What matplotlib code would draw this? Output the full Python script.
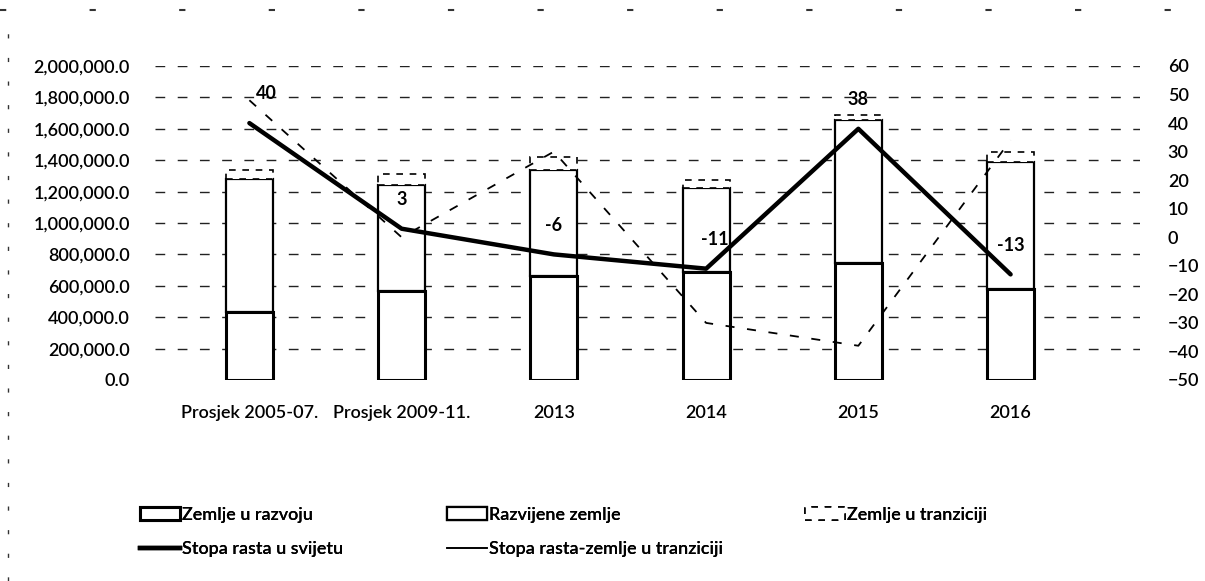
#!/usr/bin/env python3
"""FDI inflows by group of economies with growth rates."""

import numpy as np
import matplotlib
matplotlib.use("Agg")
import matplotlib.pyplot as plt
from matplotlib.patches import Patch
from matplotlib.lines import Line2D
from matplotlib.ticker import FuncFormatter

plt.rcParams["font.family"] = ["Lato", "DejaVu Sans"]
plt.rcParams["font.weight"] = "semibold"

categories = ["Prosjek 2005-07.", "Prosjek 2009-11.", "2013", "2014", "2015", "2016"]
developing = [430000, 565000, 660000, 690000, 745000, 580000]
developed = [850000, 680000, 680000, 530000, 910000, 810000]
transition = [60000, 70000, 80000, 55000, 35000, 65000]
world_growth = [40, 3, -6, -11, 38, -13]
transition_growth = [48, 0, 30, -30, -38, 34]

fs = 13
x = np.arange(len(categories))
width = 0.31

fig = plt.figure(figsize=(12.05, 5.81), dpi=100)
ax = fig.add_axes([155 / 1205, 1 - 380 / 581, (1140 - 155) / 1205, (380 - 66) / 581])

# horizontal grid, broken like the scan
for v in np.arange(200000, 2000001, 200000):
    ax.axhline(v, color="#222222", lw=1.0, ls=(0, (7, 9)), zorder=0)

bottom = np.zeros(len(x))
ax.bar(x, developing, width, bottom=bottom, color="white", edgecolor="black", lw=2.2, zorder=2)
bottom += developing
ax.bar(x, developed, width, bottom=bottom, color="white", edgecolor="black", lw=1.6, zorder=2)
bottom += developed
ax.bar(x, transition, width, bottom=bottom, color="white", edgecolor="black", lw=1.2,
       ls=(0, (4, 4)), zorder=2)

ax.set_ylim(0, 2000000)
ax.set_xlim(-0.62, 5.85)
ax.set_yticks(np.arange(0, 2000001, 200000))
ax.yaxis.set_major_formatter(FuncFormatter(lambda v, p: f"{v:,.1f}"))
ax.set_xticks(x)
ax.set_xticklabels(categories)
ax.tick_params(axis="both", length=0, labelsize=fs)
ax.tick_params(axis="y", pad=18)
ax.tick_params(axis="x", pad=18)
for s in ax.spines.values():
    s.set_visible(False)

ax2 = ax.twinx()
ax2.plot(x, transition_growth, color="black", lw=1.3, ls=(0, (5, 7)), zorder=3)
ax2.plot(x, world_growth, color="black", lw=3.2, solid_capstyle="round", zorder=4)
for i, v in enumerate(world_growth):
    dx = 12 if i == 0 else (6 if v == -11 else 0)
    ax2.annotate(str(v), (x[i], v), xytext=(dx, 15), textcoords="offset points",
                 ha="center", va="bottom", fontsize=fs, fontweight="bold")
ax2.set_ylim(-50, 60)
ax2.set_yticks(np.arange(-50, 61, 10))
ax2.tick_params(axis="y", length=0, labelsize=fs, pad=20)
for s in ax2.spines.values():
    s.set_visible(False)

# legend: three columns placed where the scan has them
legend_cols = [
    (140, [Patch(facecolor="white", edgecolor="black", lw=2.2),
           Line2D([], [], color="black", lw=3.2)],
     ["Zemlje u razvoju", "Stopa rasta u svijetu"]),
    (447, [Patch(facecolor="white", edgecolor="black", lw=1.6),
           Line2D([], [], color="black", lw=1.2)],
     ["Razvijene zemlje", "Stopa rasta-zemlje u tranziciji"]),
    (805, [Patch(facecolor="white", edgecolor="black", lw=1.2, ls=(0, (4, 4)))],
     ["Zemlje u tranziciji"]),
]
for xpx, hs, ls in legend_cols:
    leg = fig.legend(hs, ls, loc="upper left", bbox_to_anchor=(xpx / 1205, 1 - 507 / 581),
                     frameon=False, fontsize=fs, handlelength=2.2, handletextpad=0.15,
                     borderpad=0, borderaxespad=0, labelspacing=1.0)
    fig.add_artist(leg)

# scan border remnants
fig.add_artist(Line2D([8 / 1205, 8 / 1205], [0, 1 - 30 / 581], transform=fig.transFigure,
                      color="#333333", lw=1, ls=(0, (3, 14))))
fig.add_artist(Line2D([0, 1], [1 - 10 / 581, 1 - 10 / 581], transform=fig.transFigure,
                      color="#333333", lw=1.5, ls=(0, (3, 40))))

fig.savefig("out.png", dpi=100)
